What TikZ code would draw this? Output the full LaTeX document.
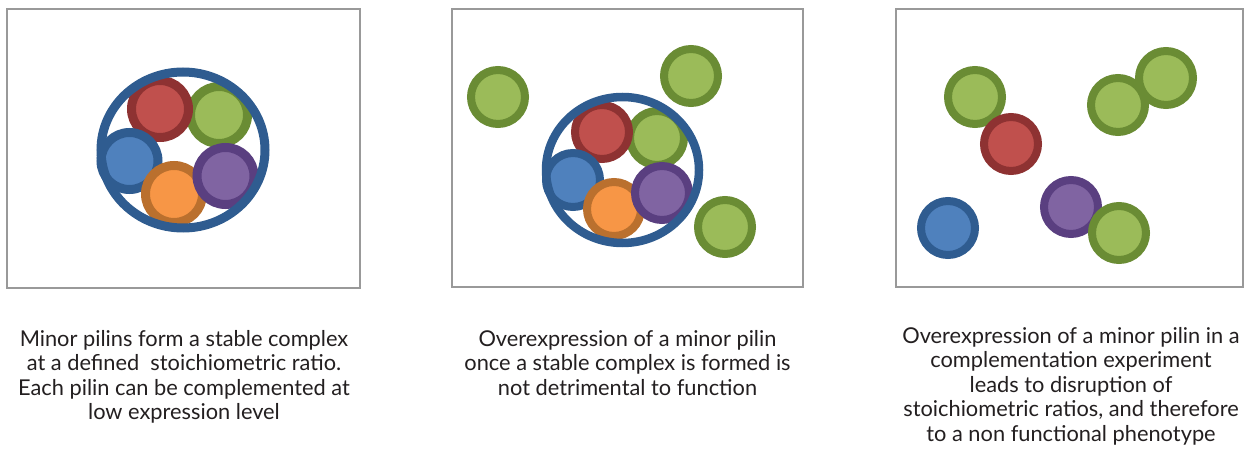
\documentclass[tikz,border=0pt]{standalone}
\usepackage{fontspec}
\setmainfont{Lato}
\definecolor{ringblue}{HTML}{2F5C90}
\definecolor{redD}{HTML}{8E3232}
\definecolor{redL}{HTML}{C0504D}
\definecolor{greenD}{HTML}{6A8C34}
\definecolor{greenL}{HTML}{9BBB59}
\definecolor{blueD}{HTML}{2F5C90}
\definecolor{blueL}{HTML}{4F81BD}
\definecolor{orangeD}{HTML}{BA702E}
\definecolor{orangeL}{HTML}{F79646}
\definecolor{purpleD}{HTML}{5A3F80}
\definecolor{purpleL}{HTML}{8064A2}
\definecolor{txt}{HTML}{231F20}
\tikzset{
  panel/.style={draw=black!40, line width=1.2pt, fill=white},
  ring/.style={draw=ringblue, line width=9pt},
  ringB/.style={draw=ringblue, line width=8.5pt},
  pA/.style={line width=9pt},
  pB/.style={line width=8pt},
  pred/.style={draw=redD, fill=redL},
  pgreen/.style={draw=greenD, fill=greenL},
  pblue/.style={draw=blueD, fill=blueL},
  porange/.style={draw=orangeD, fill=orangeL},
  ppurple/.style={draw=purpleD, fill=purpleL},
  caption/.style={align=center, text=txt, inner sep=0pt, anchor=north,
    font=\fontsize{21.8}{24.5}\selectfont},
}
\begin{document}
\begin{tikzpicture}[x=1pt,y=-1pt]
\useasboundingbox[fill=white] (0,0) rectangle (1245,454);
% panels
\draw[panel] (7,9) rectangle (360,288);
\draw[panel] (452,9) rectangle (803,287);
\draw[panel] (896,9) rectangle (1243,287);
% panel 1: complex
\draw[pA,pgreen] (219,115) circle (28.5);
\draw[pA,pred] (160,109) circle (28.5);
\draw[pA,pblue] (129.5,161) circle (28.5);
\draw[pA,porange] (174,194) circle (28.5);
\draw[pA,ppurple] (225.5,176) circle (28.5);
\draw[ring] (183,150) ellipse (82 and 78);
% panel 2
\draw[pB,pgreen] (498,97) circle (27);
\draw[pB,pgreen] (691,76) circle (27);
\draw[pB,pgreen] (725,227) circle (27);
\draw[pB,pgreen] (657,138) circle (27);
\draw[pB,pred] (602,132) circle (27);
\draw[pB,pblue] (573,180) circle (27);
\draw[pB,porange] (614,209) circle (27);
\draw[pB,ppurple] (662,193) circle (27);
\draw[ringB] (622.5,170) ellipse (76.5 and 73);
% panel 3
\draw[pB,pgreen] (975,97) circle (27);
\draw[pB,pred] (1011,144) circle (27);
\draw[pB,pgreen] (1166,78) circle (27);
\draw[pB,pgreen] (1118,105) circle (27);
\draw[pB,pblue] (948,228) circle (27);
\draw[pB,ppurple] (1071,207) circle (27);
\draw[pB,pgreen] (1119,233) circle (27);
% captions
\node[caption] (c1) at (184,330) {Minor pilins form a stable complex\\at a defined \ stoichiometric ratio.\\Each pilin can be complemented at\\low expression level};
\node[caption] (c2) at (627.5,330) {Overexpression of a minor pilin\\once a stable complex is formed is\\not detrimental to function};
\node[caption] (c3) at (1071,327) {Overexpression of a minor pilin in a\\complementation experiment\\leads to disruption of\\stoichiometric ratios, and therefore\\to a non functional phenotype};
\end{tikzpicture}
\end{document}
